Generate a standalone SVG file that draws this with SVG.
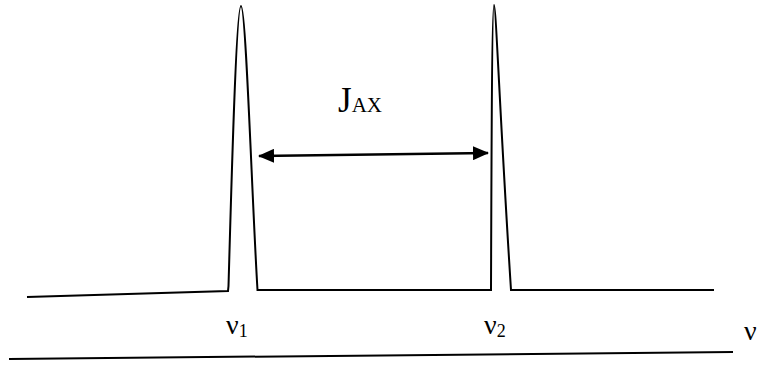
<svg xmlns="http://www.w3.org/2000/svg" width="757" height="365" viewBox="0 0 757 365">
  <defs>
    <marker id="ah" viewBox="0 0 16 14" refX="15" refY="7" markerWidth="16" markerHeight="14" markerUnits="userSpaceOnUse" orient="auto-start-reverse">
      <path d="M0,0 L16,7 L0,14 Z" fill="#000"/>
    </marker>
  </defs>
  <style>
    .ln { fill: none; stroke: #000; stroke-width: 2; stroke-linejoin: miter; }
    .t { font-family: "Liberation Serif", "DejaVu Serif", serif; fill: #000; }
  </style>
  <rect width="757" height="365" fill="#fff"/>
  <g id="spectrum">
    <path class="ln" d="M27,297 L228,291 L228.5,286 C231,200 236,6 241,6 C246,6 252,200 257.5,290 L491,290 C491.5,150 492,5 494,5 C496,5 500,120 511,290 L714,290"/>
  </g>
  <g id="axis">
    <path class="ln" d="M9,359 L733,352"/>
  </g>
  <g id="connectors">
    <line x1="259" y1="156" x2="488" y2="153" stroke="#000" stroke-width="2.5" marker-start="url(#ah)" marker-end="url(#ah)"/>
  </g>
  <g id="label-jax">
    <text class="t" x="338" y="112" font-size="35">J<tspan font-size="21">AX</tspan></text>
  </g>
  <g id="label-nu1">
    <text class="t" x="226" y="334" font-size="28">ν<tspan font-size="18" dy="3">1</tspan></text>
  </g>
  <g id="label-nu2">
    <text class="t" x="484" y="334" font-size="28">ν<tspan font-size="18" dy="3">2</tspan></text>
  </g>
  <g id="label-nu">
    <text class="t" x="744" y="340" font-size="28">ν</text>
  </g>
</svg>
